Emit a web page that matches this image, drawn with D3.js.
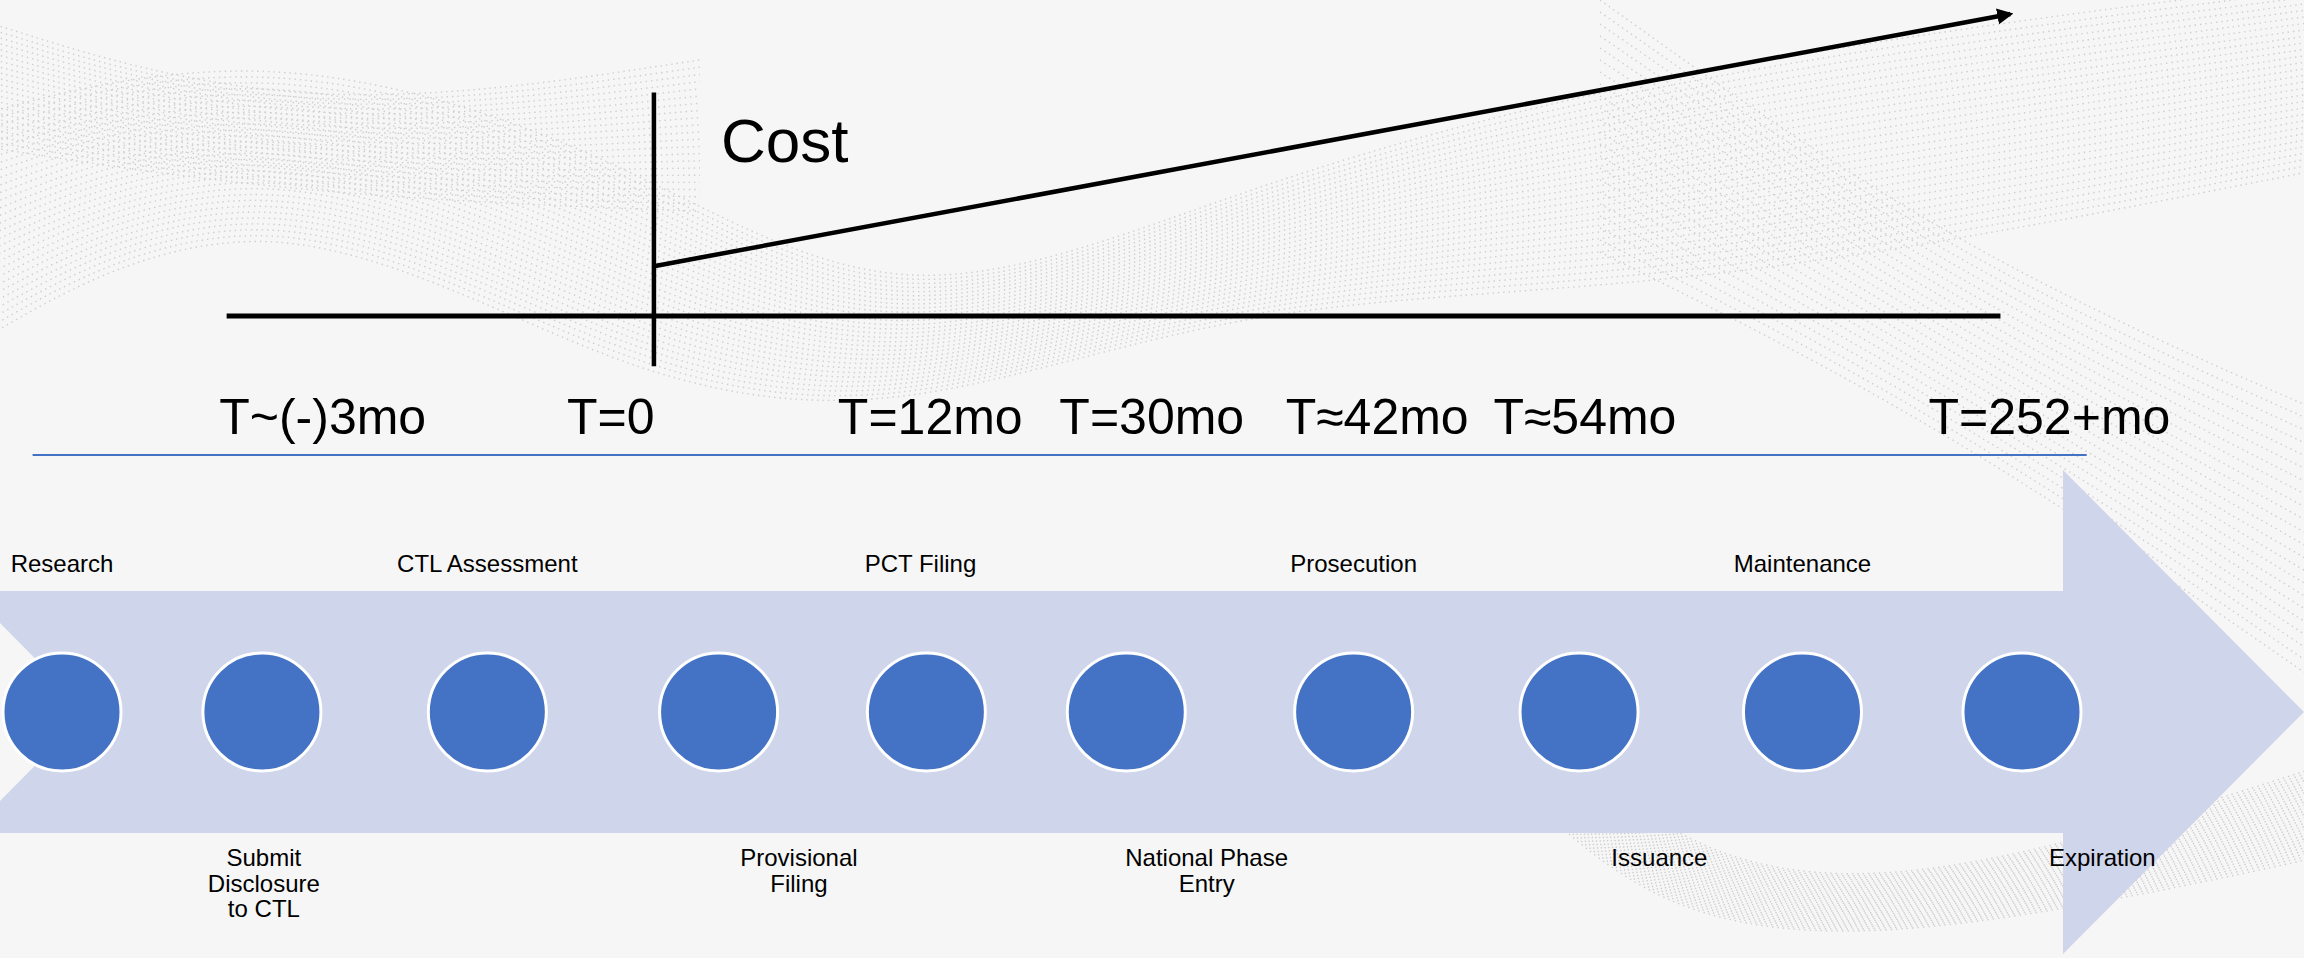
<!DOCTYPE html>
<style>
    body { margin: 0; background: #f6f6f6; }
    svg { display: block; font-family: "Liberation Sans", Arial, sans-serif; }
</style>
<svg width="2304" height="958"></svg>

<script src="https://d3js.org/d3.v7.min.js"></script>
<script>
    // lifecycle stages, alternating above / below the arrow
    var stages = ["Research", "Submit\nDisclosure\nto CTL", "CTL Assessment", "Provisional\nFiling",
        "PCT Filing", "National Phase\nEntry", "Prosecution", "Issuance", "Maintenance", "Expiration"];
    // where each stage sits along the lifecycle (0 = first, 100 = last)
    var stageAt = [0, 10.2, 21.7, 33.5, 44.1, 54.3, 65.9, 77.4, 88.8, 100];
    var labelAt = [0, 10.3, 21.7, 37.6, 43.8, 58.4, 65.9, 81.5, 88.8, 104.1];

    // time marks on the cost chart
    var timeLabels = ["T~(-)3mo", "T=0", "T=12mo", "T=30mo", "T\u224842mo", "T\u224854mo", "T=252+mo"];
    var timeAt = [13.3, 28.0, 44.3, 55.6, 67.1, 77.7, 101.4];

    // cost rises from T=0 to the end of the term
    var costAt = [30.2, 99.4];
    var costValues = [16.5, 100];

    var svg = d3.select("svg"),
        width = +svg.attr("width"),
        height = +svg.attr("height");

    var x = d3.scaleLinear().domain([0, 100]).range([62, 2022]);
    var yCost = d3.scaleLinear().domain([0, 100]).range([316, 14]);

    svg.append("rect").attr("width", width).attr("height", height).attr("fill", "#f6f6f6");

    // faint dotted waves in the background
    var bg = svg.append("g").attr("fill", "none").attr("stroke", "#b4b4b4")
        .attr("stroke-dasharray", "1.4 4").attr("stroke-width", 1.4).attr("opacity", 0.6);
    var wave = d3.line().curve(d3.curveBasis);
    d3.range(30).forEach(function (i) {
        var o = i * 8;
        bg.append("path").attr("d", wave([[-40, 120 + o], [260, 40 + o * 0.6], [620, 150 + o], [900, 330 + o * 0.4], [1250, 180 + o * 0.5], [1700, 60 + o], [2340, -20 + o * 0.8]]));
        bg.append("path").attr("d", wave([[1500, 650 + o * 0.5], [1650, 850 + o * 0.3], [1900, 900 + o * 0.2], [2340, 760 + o * 0.4]]));
    });
    d3.range(22).forEach(function (i) {
        var o = i * 12;
        bg.append("path").attr("d", wave([[1600, 0 + o], [1950, 250 + o * 0.7], [2340, 420 + o * 1.1]]));
        bg.append("path").attr("d", wave([[-20, 20 + o * 0.5], [300, 120 + o * 0.3], [700, 60 + o * 0.6]]));
    });

    // ---- cost chart ----
    var chart = svg.append("g").attr("stroke", "#000").attr("fill", "none");

    chart.append("line")
        .attr("x1", x(8.4)).attr("x2", x(98.9))
        .attr("y1", yCost(0)).attr("y2", yCost(0))
        .attr("stroke-width", 5);

    chart.append("line")
        .attr("x1", x(costAt[0])).attr("x2", x(costAt[0]))
        .attr("y1", yCost(74)).attr("y2", yCost(-16.6))
        .attr("stroke-width", 4.5);

    svg.append("defs").append("marker")
        .attr("id", "head")
        .attr("viewBox", "0 0 10 10")
        .attr("refX", 8).attr("refY", 5)
        .attr("markerWidth", 3.6).attr("markerHeight", 3.6)
        .attr("markerUnits", "strokeWidth")
        .attr("orient", "auto")
        .append("path").attr("d", "M0,0L10,5L0,10z").attr("fill", "#000");

    chart.append("path")
        .datum(costAt.map(function (d, i) { return [d, costValues[i]]; }))
        .attr("d", d3.line().x(function (d) { return x(d[0]); }).y(function (d) { return yCost(d[1]); }))
        .attr("stroke-width", 4.5)
        .attr("marker-end", "url(#head)");

    svg.append("text")
        .attr("x", x(costAt[0]) + 67).attr("y", 162)
        .attr("font-size", 62)
        .text("Cost");

    svg.append("g").selectAll("text")
        .data(timeLabels)
        .enter().append("text")
        .attr("x", function (d, i) { return x(timeAt[i]); })
        .attr("y", 434)
        .attr("text-anchor", "middle")
        .attr("font-size", 50)
        .text(function (d) { return d; });

    svg.append("line")
        .attr("x1", x(-1.5)).attr("x2", x(103.3))
        .attr("y1", 455).attr("y2", 455)
        .attr("stroke", "#4472c4").attr("stroke-width", 2.2);

    // ---- lifecycle arrow ----
    var cy = 712;
    svg.append("path")
        .attr("d", "M0," + (cy - 121) + "H2063V" + (cy - 242) + "L" + width + "," + cy +
            "L2063," + (cy + 242) + "V" + (cy + 121) + "H0V" + (cy + 89) + "L88," + cy + "L0," + (cy - 89) + "Z")
        .attr("fill", "#cfd5ea");

    svg.append("g").selectAll("circle")
        .data(stages)
        .enter().append("circle")
        .attr("cx", function (d, i) { return x(stageAt[i]); })
        .attr("cy", cy)
        .attr("r", 59)
        .attr("fill", "#4472c4")
        .attr("stroke", "#fff")
        .attr("stroke-width", 3);

    var labels = svg.append("g").attr("font-size", 24).attr("text-anchor", "middle")
        .selectAll("text")
        .data(stages)
        .enter().append("text")
        .attr("x", function (d, i) { return x(labelAt[i]); })
        .attr("y", function (d, i) { return i % 2 === 0 ? 572 : 866; });

    labels.selectAll("tspan")
        .data(function (d) { return d.split("\n"); })
        .enter().append("tspan")
        .attr("x", function () { return d3.select(this.parentNode).attr("x"); })
        .attr("dy", function (d, i) { return i === 0 ? 0 : 25.5; })
        .text(function (d) { return d; });
</script>
